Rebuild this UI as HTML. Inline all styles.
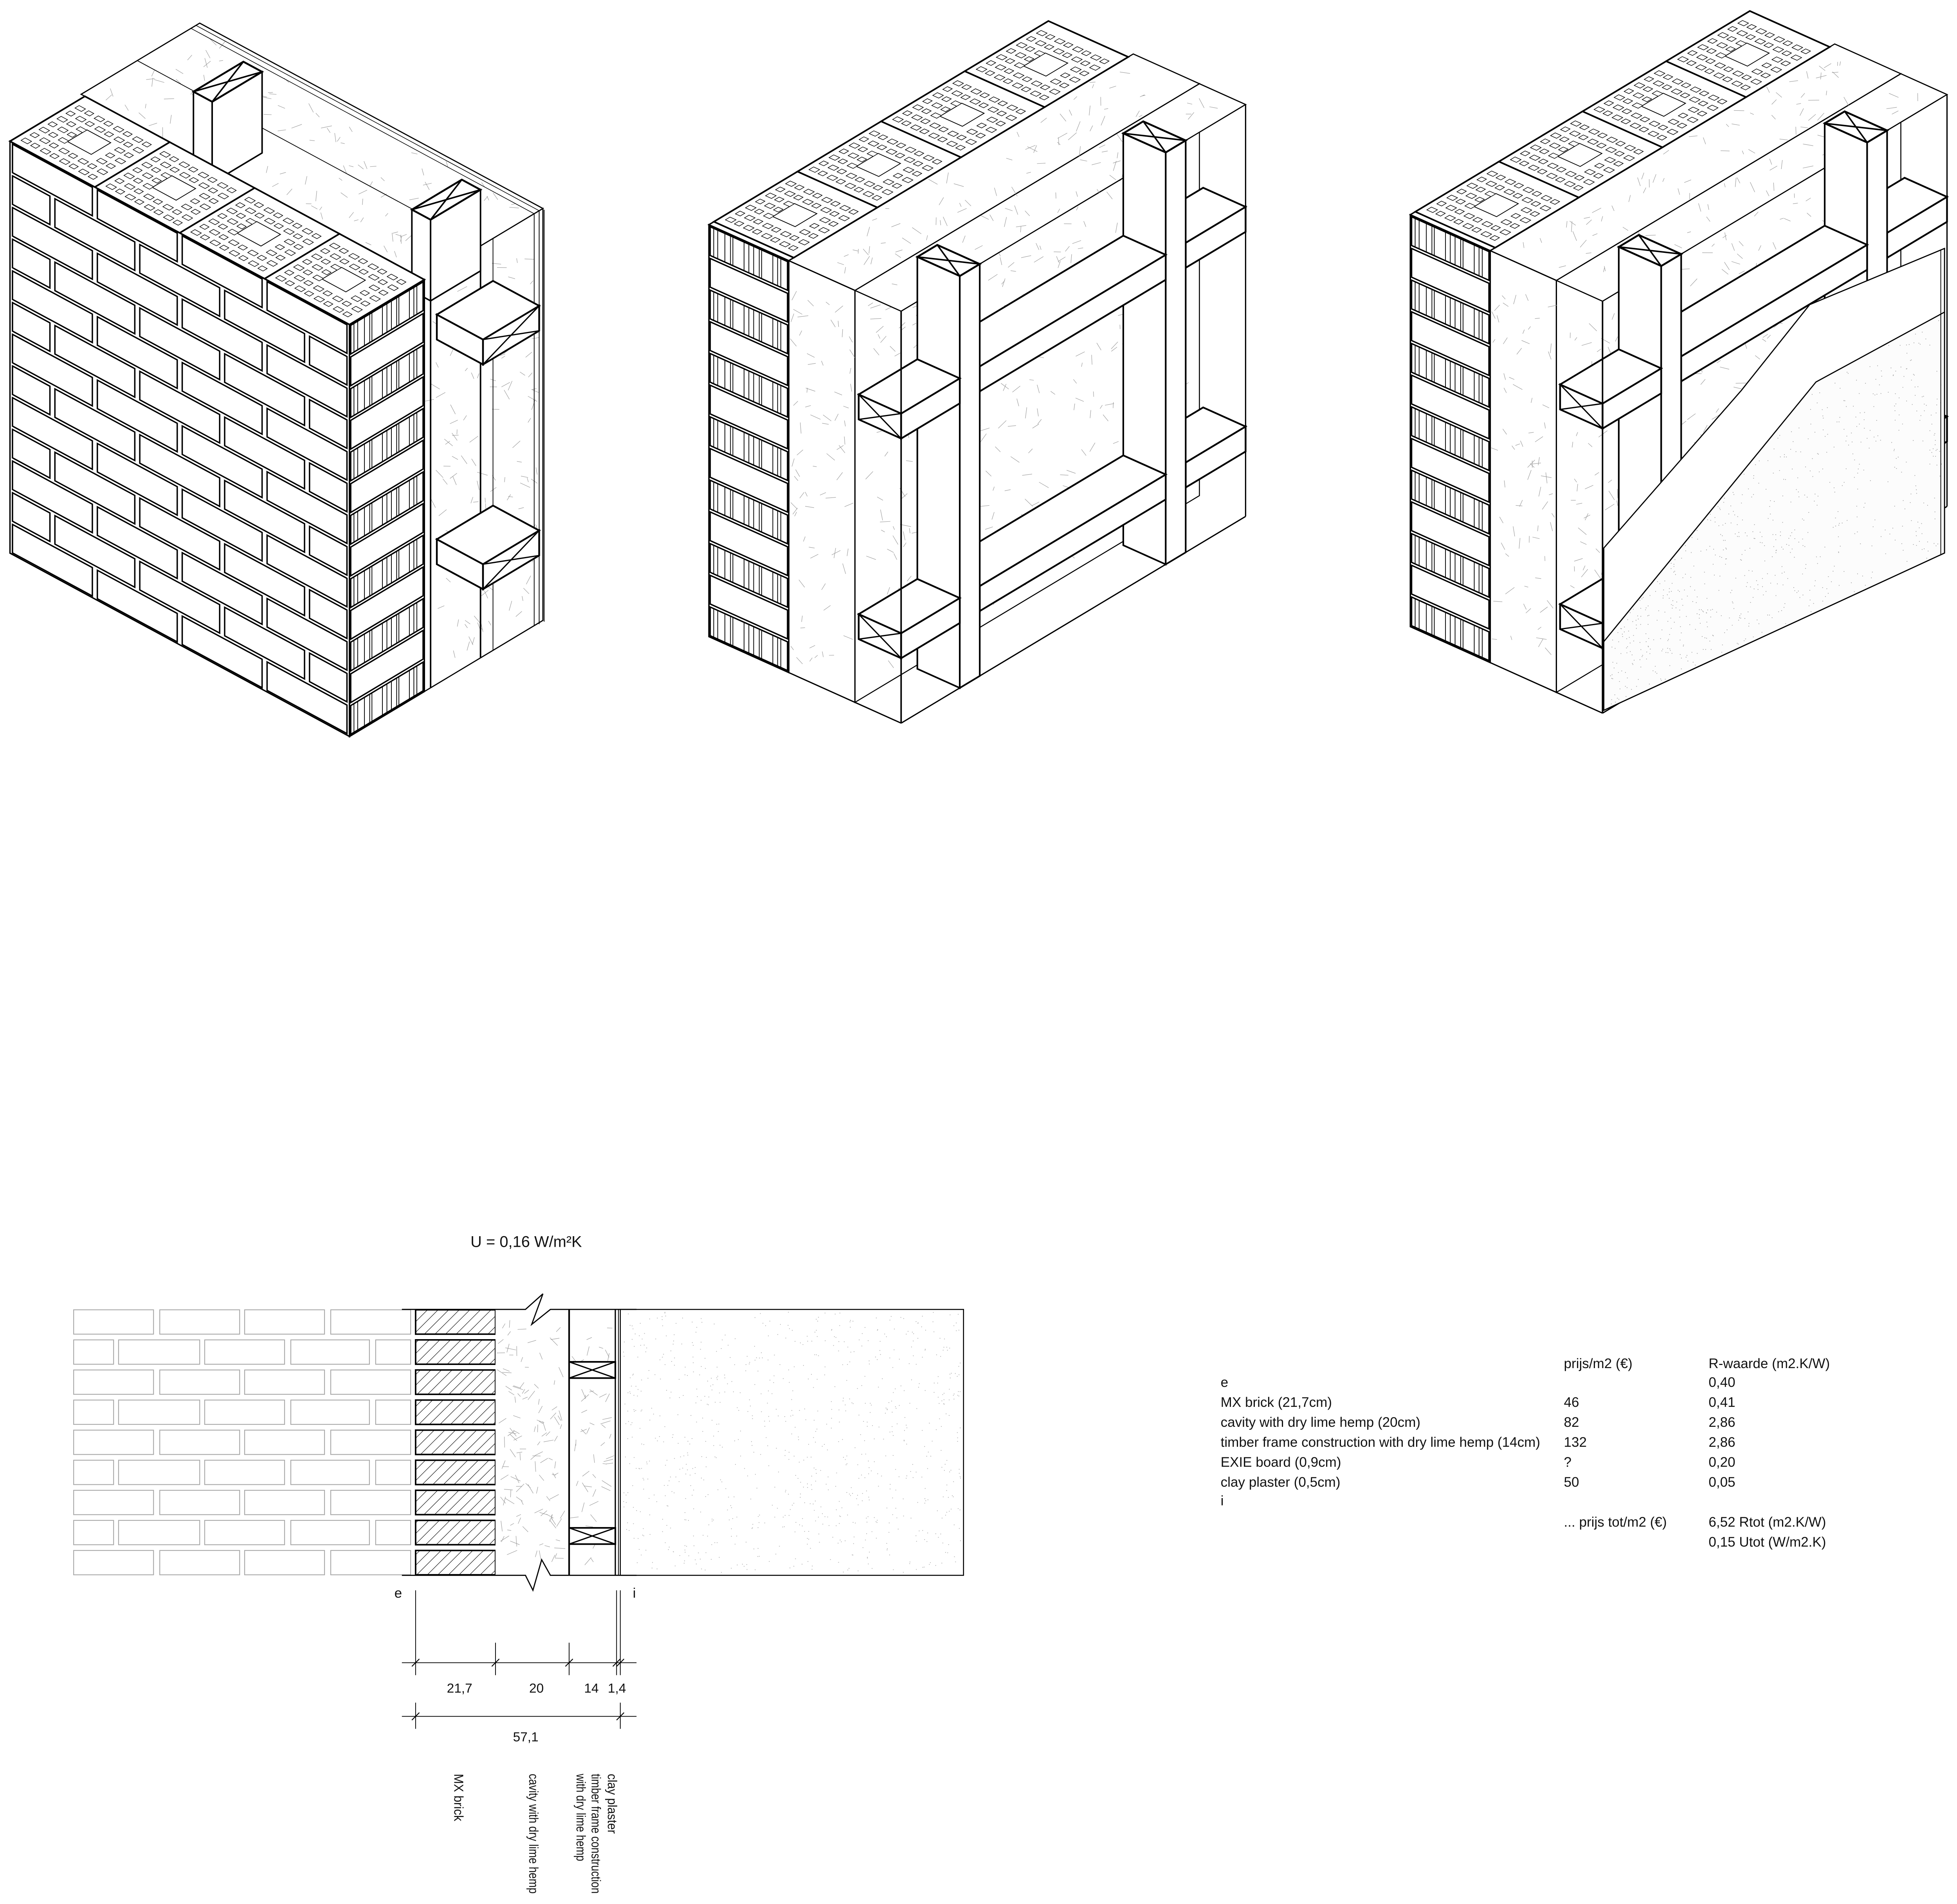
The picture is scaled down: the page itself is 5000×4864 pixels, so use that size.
<!DOCTYPE html>
<html><head><meta charset="utf-8">
<style>
html,body{margin:0;padding:0;background:#fff;}
svg{display:block;}
text{font-family:"Liberation Sans Narrow","Liberation Sans",sans-serif;fill:#111;}
</style></head>
<body>
<svg id="svg" xmlns="http://www.w3.org/2000/svg" width="5000" height="4864" viewBox="0 0 1568 1525.3">
<defs>
<pattern id="hat" width="6" height="6" patternUnits="userSpaceOnUse" patternTransform="rotate(45)">
<line x1="0" y1="0" x2="0" y2="6" stroke="#000" stroke-width="0.7"/>
</pattern>
</defs>
<rect x="0" y="0" width="1568" height="1525.3" fill="#fff"/>
<g id="g"></g>
<g id="sec"></g>

<text x="377" y="999" font-size="12.5">U = 0,16 W/m²K</text>
<text x="316" y="1280" font-size="11">e</text>
<text x="507" y="1280" font-size="11">i</text>
<text x="358" y="1356" font-size="10.5">21,7</text>
<text x="424" y="1356" font-size="10.5">20</text>
<text x="468" y="1356" font-size="10.5">14</text>
<text x="487" y="1356" font-size="10.5">1,4</text>
<text x="411" y="1395" font-size="10.5">57,1</text>
<text transform="translate(364,1421) rotate(90)" font-size="10.5" textLength="38" lengthAdjust="spacingAndGlyphs">MX brick</text>
<text transform="translate(424,1421) rotate(90)" font-size="10.5" textLength="96" lengthAdjust="spacingAndGlyphs">cavity with dry lime hemp</text>
<text transform="translate(462,1421) rotate(90)" font-size="10.5" textLength="70" lengthAdjust="spacingAndGlyphs">with dry lime hemp</text>
<text transform="translate(474,1421) rotate(90)" font-size="10.5" textLength="96" lengthAdjust="spacingAndGlyphs">timber frame construction</text>
<text transform="translate(487,1421) rotate(90)" font-size="10.5" textLength="48" lengthAdjust="spacingAndGlyphs">clay plaster</text>

<g font-size="11">
<text x="1253" y="1096">prijs/m2 (€)</text>
<text x="1369" y="1096">R-waarde (m2.K/W)</text>
<text x="978" y="1111">e</text><text x="1369" y="1111">0,40</text>
<text x="978" y="1127">MX brick (21,7cm)</text><text x="1253" y="1127">46</text><text x="1369" y="1127">0,41</text>
<text x="978" y="1143">cavity with dry lime hemp (20cm)</text><text x="1253" y="1143">82</text><text x="1369" y="1143">2,86</text>
<text x="978" y="1159">timber frame construction with dry lime hemp (14cm)</text><text x="1253" y="1159">132</text><text x="1369" y="1159">2,86</text>
<text x="978" y="1175">EXIE board (0,9cm)</text><text x="1253" y="1175">?</text><text x="1369" y="1175">0,20</text>
<text x="978" y="1191">clay plaster (0,5cm)</text><text x="1253" y="1191">50</text><text x="1369" y="1191">0,05</text>
<text x="978" y="1206">i</text>
<text x="1253" y="1223">... prijs tot/m2 (€)</text><text x="1369" y="1223">6,52 Rtot (m2.K/W)</text>
<text x="1369" y="1239">0,15 Utot (W/m2.K)</text>
</g>
</svg>
<script>
(function(){
const NS='http://www.w3.org/2000/svg';
let G=document.getElementById('g');
function el(t,a,par){const e=document.createElementNS(NS,t);for(const k in a)e.setAttribute(k,a[k]);(par||G).appendChild(e);return e;}
const f=n=>(+n).toFixed(2);
const pts=p=>p.map(q=>f(q[0])+','+f(q[1])).join(' ');
function poly(p,sw,fill){return el('polygon',{points:pts(p),fill:fill||'#fff',stroke:'#000','stroke-width':sw||0.8,'stroke-linejoin':'miter'});}
function pl(p,sw,c){return el('polyline',{points:pts(p),fill:'none',stroke:c||'#000','stroke-width':sw||0.8});}
function ln(a,b,sw,c){return el('line',{x1:f(a[0]),y1:f(a[1]),x2:f(b[0]),y2:f(b[1]),stroke:c||'#000','stroke-width':sw||0.8});}
let seed=12345;function R(){seed=(seed*16807)%2147483647;return seed/2147483647;}
function bil(q,s,t){return [(1-s)*(1-t)*q[0][0]+s*(1-t)*q[1][0]+s*t*q[2][0]+(1-s)*t*q[3][0],(1-s)*(1-t)*q[0][1]+s*(1-t)*q[1][1]+s*t*q[2][1]+(1-s)*t*q[3][1]];}
function area(q){let s=0;for(let i=0;i<q.length;i++){const a=q[i],b=q[(i+1)%q.length];s+=a[0]*b[1]-b[0]*a[1];}return Math.abs(s/2);}
function hemp(q,d){const n=Math.round(area(q)*d);for(let i=0;i<n;i++){const c=bil(q,0.04+0.92*R(),0.04+0.92*R());const a=R()*Math.PI;const L=3+R()*6;ln([c[0]-Math.cos(a)*L/2,c[1]-Math.sin(a)*L/2],[c[0]+Math.cos(a)*L/2,c[1]+Math.sin(a)*L/2],0.35,'#999');}}
function face(q,sw,d){poly(q,sw);if(d)hemp(q,d);}
function sub(q,s0,s1,t0,t1){return [bil(q,s0,t0),bil(q,s1,t0),bil(q,s1,t1),bil(q,s0,t1)];}
function tile(q){poly(q,1.3);poly(sub(q,0.36,0.64,0.36,0.62),0.6);
 for(let j=0;j<7;j++)for(let i=0;i<8;i++){const s=0.06+i*0.113,t=0.08+j*0.12;
  if(s>0.3&&s<0.66&&t>0.3&&t<0.64)continue;
  const w=(i+j)%2?0.06:0.075;poly(sub(q,s,s+w,t,t+0.055),0.45);}}
const HL=[0.06,0.11,0.2,0.27,0.3,0.44,0.5,0.56,0.63,0.66,0.8,0.86,0.9];
function endFace(F,W,H,n,start){const h=H/n;
 poly([F(0,0),F(W,0),F(W,H),F(0,H)],1.1);
 for(let k=0;k<n;k++){const z0=k*h+1.2,z1=(k+1)*h-1.2;
  poly([F(1,z0),F(W-1,z0),F(W-1,z1),F(1,z1)],1.1);
  if((k+start)%2==0){HL.forEach(s=>ln(F(s*W,z0),F(s*W,z1),0.6));}}}
function frontBricks(F,s0,s1,H,n,L){const h=H/n;
 poly([F(s0,0),F(s1,0),F(s1,H),F(s0,H)],1.1);
 for(let k=0;k<n;k++){const z0=k*h+1.3,z1=(k+1)*h-1.3;const off=(k%2)?L/2:0;
  for(let x=s0-off;x<s1;x+=L){const a=Math.max(x,s0)+2,b=Math.min(x+L,s1)-2;if(b-a<4)continue;
   poly([F(a,z0),F(b,z0),F(b,z1),F(a,z1)],1.1);}}}

(function(){
const A=0.54,B=0.6,H=330;
const P=(x,y,z)=>[280+x+y,590+A*x-B*y-z];
face([P(-275,60,H),P(0,60,H),P(0,155,H),P(-275,155,H)],0.9,0.004);
ln(P(-275,105,H),P(0,105,H),0.6);ln(P(-275,148,H),P(0,148,H),0.5);ln(P(-275,152,H),P(0,152,H),0.5);
face([P(0,60,0),P(0,155,0),P(0,155,H),P(0,60,H)],0.9,0.004);
[[65,1.2],[105,1.2],[115,0.6],[148,0.6],[152,0.6]].forEach(a=>ln(P(0,a[0],0),P(0,a[0],H),a[1]));
function stud(x0){const Z=H+45;
 const top=[P(x0,65,Z),P(x0+15,65,Z),P(x0+15,105,Z),P(x0,105,Z)];
 poly([P(x0,65,H-20),P(x0+15,65,H-20),P(x0+15,65,Z),P(x0,65,Z)],1.2);
 poly([P(x0+15,65,H-20),P(x0+15,105,H-20),P(x0+15,105,Z),P(x0+15,65,Z)],1.2);
 poly(top,1.5);ln(top[0],top[2],1.2);ln(top[1],top[3],1.2);}
stud(-190);stud(-15);
[296,116].forEach(zt=>{const z0=zt-20;
 poly([P(0,70,z0),P(37,70,z0),P(37,70,zt),P(0,70,zt)],1.4);
 const r=[P(37,70,z0),P(37,115,z0),P(37,115,zt),P(37,70,zt)];poly(r,1.4);ln(r[0],r[2],1);ln(r[1],r[3],1);
 poly([P(0,70,zt),P(37,70,zt),P(37,115,zt),P(0,115,zt)],1.4);});
frontBricks((s,z)=>P(s,0,z),-272,0,H,13,68);
endFace((s,z)=>P(0,s,z),60,H,13,0);
poly([P(-272,0,H),P(0,0,H),P(0,60,H),P(-272,60,H)],1.1);
for(let k=0;k<4;k++)tile([P(-272+68*k,0,H),P(-204+68*k,0,H),P(-204+68*k,60,H),P(-272+68*k,60,H)]);
ln([432,170],[432,500],0.6);ln([436,168],[436,498],0.6);
})();

function diag(ox,oy,board){
 const a=0.45,b=0.6,H=330;
 const P=(u,v,z)=>[ox+u+v,oy+a*u-b*v-z];
 face([P(117,0,0),P(117,276,0),P(117,276,H),P(117,0,H)],0.8,0.004);
 face([P(117,0,H),P(154,0,H),P(154,276,H),P(117,276,H)],0.9,0.004);
 const lev=[[228,248],[52,72]];
 function ledger(v0,v1,x){lev.forEach(l=>{const z0=l[0],z1=l[1];
  poly([P(154,v0,z0),P(154,v1,z0),P(154,v1,z1),P(154,v0,z1)],1.4);
  poly([P(120,v0,z1),P(154,v0,z1),P(154,v1,z1),P(120,v1,z1)],1.4);
  const fr=[P(120,v0,z0),P(154,v0,z0),P(154,v0,z1),P(120,v0,z1)];poly(fr,1.4);
  if(x){ln(fr[0],fr[2],1);ln(fr[1],fr[3],1);}});}
 function stud(v0,v1){
  poly([P(120,v0,0),P(154,v0,0),P(154,v0,H),P(120,v0,H)],1.3);
  poly([P(154,v0,0),P(154,v1,0),P(154,v1,H),P(154,v0,H)],1.3);
  const t=[P(120,v0,H),P(154,v0,H),P(154,v1,H),P(120,v1,H)];poly(t,1.5);ln(t[0],t[2],1.2);ln(t[1],t[3],1.2);}
 ledger(228,276,false);stud(212,228);ledger(63,212,false);stud(47,63);ledger(0,47,true);
 face([P(64,0,H),P(117,0,H),P(117,276,H),P(64,276,H)],0.9,0.004);
 face([P(64,0,0),P(117,0,0),P(117,0,H),P(64,0,H)],1,0.004);
 ln(P(117,0,0),P(154,0,0),1);ln(P(154,0,0),P(154,0,H),1.2);ln(P(154,0,0),P(154,276,0),1);ln(P(154,276,0),P(154,276,H),1);
 endFace((s,z)=>P(s,0,z),64,H,13,0);
 poly([P(0,0,H),P(64,0,H),P(64,272,H),P(0,272,H)],1.1);
 for(let k=0;k<4;k++){const v0=4+67*k,v1=v0+67;tile([P(0,v0,H),P(64,v0,H),P(64,v1,H),P(0,v1,H)]);}
 if(board){
  const A=[[1285,439],[1395,313],[1450,244],[1558,199]];
  poly(A.concat([[1558,443],[1285,569]]),0.9);
  const Bp=[[1285,514],[1455,306],[1558,250]];
  poly(Bp.concat([[1558,443],[1285,569]]),0.9,'#fcfcfc');
  for(let i=0;i<700;i++){const s=R(),t=R();const x=1290+s*266;const yTop=(x<1455)?514-(x-1285)*(208/170):306-(x-1455)*(56/103);const yBot=569-(x-1285)*(126/273);
   if(yBot-yTop<2)continue;el('circle',{cx:f(x),cy:f(yTop+2+t*(yBot-yTop-4)),r:0.35,fill:'#aaa'});}
  ln([1555,200],[1555,444],0.6);
 }
}
diag(568,510,false);
diag(1130,502,true);

G=document.getElementById('sec');
for(let r=0;r<9;r++){const y0=1049.3+r*24.1,h=19.5;
 const xs=(r%2==0)?[[59,123],[128,192],[196,260],[265,329]]:[[59,91],[95,160],[164,228],[233,296],[301,329]];
 xs.forEach(x=>el('rect',{x:x[0],y:f(y0),width:x[1]-x[0],height:h,fill:'#fff',stroke:'#aaa','stroke-width':0.7}));
 el('rect',{x:333,y:f(y0),width:64,height:h,fill:'url(#hat)',stroke:'#000','stroke-width':1.2});
}
el('rect',{x:397,y:1049,width:59,height:213,fill:'#fff'});
hemp([[399,1052],[454,1052],[454,1259],[399,1259]],0.011);
el('rect',{x:497,y:1049,width:275,height:213,fill:'#fff',stroke:'#000','stroke-width':0.8});
for(let i=0;i<900;i++){el('circle',{cx:f(499+R()*271),cy:f(1051+R()*209),r:0.35,fill:'#b5b5b5'});}
hemp([[458,1052],[491,1052],[491,1259],[458,1259]],0.008);
ln([456,1049],[456,1262],1.3);ln([493,1049],[493,1262],1);ln([495.5,1049],[495.5,1262],0.6);
[[1091,1104],[1224,1237]].forEach(y=>{el('rect',{x:456,y:y[0],width:37,height:y[1]-y[0],fill:'#fff',stroke:'#000','stroke-width':1.3});ln([456,y[0]],[493,y[1]],1);ln([493,y[0]],[456,y[1]],1);});
pl([[322,1049],[421,1049],[435,1036.5],[426,1061],[441,1049],[510,1049]],0.9);
pl([[322,1262],[421,1262],[427,1274],[434,1249.5],[441,1262],[510,1262]],0.9);
[[333,1274,1342],[397,1316,1342],[456,1316,1342],[494,1274,1342],[497,1274,1342]].forEach(d=>ln([d[0],d[1]],[d[0],d[2]],0.6));
ln([322,1332],[510,1332],0.6);
[333,397,456,494,497].forEach(x=>ln([x-3,1335],[x+3,1329],0.7));
ln([333,1364],[333,1385],0.6);ln([497,1364],[497,1385],0.6);
ln([322,1375],[510,1375],0.6);
[333,497].forEach(x=>ln([x-3,1378],[x+3,1372],0.7));
})();
</script>
</body></html>
